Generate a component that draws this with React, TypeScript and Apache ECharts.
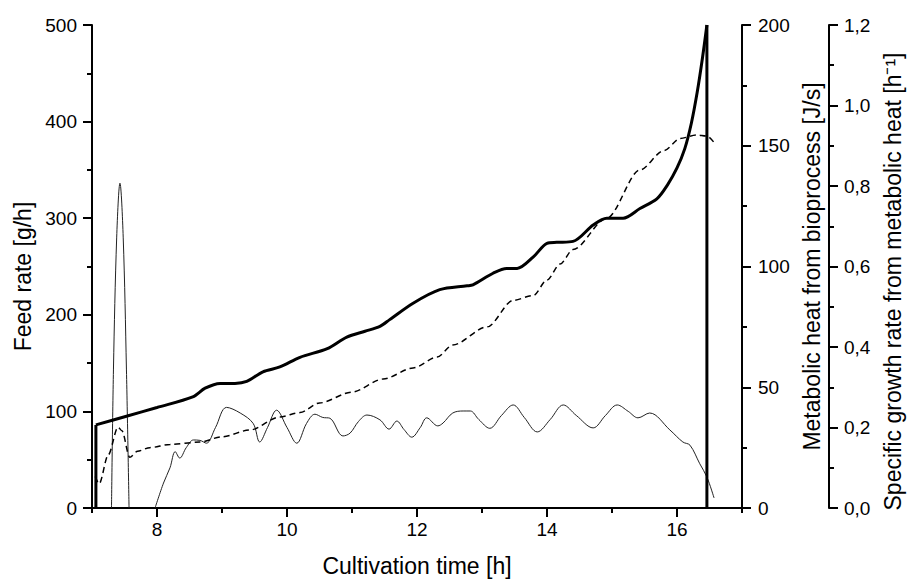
import React, { useEffect, useRef } from "react";
import * as echarts from "echarts";

// Cultivation time [h] and feed rate [g/h] (thick line, left axis)
const timeFeed = [7.06, 7.06, 7.53, 8.0, 8.55, 8.74, 8.97, 9.2, 9.38, 9.63, 9.89, 10.2, 10.62, 10.92, 11.2, 11.43, 11.58, 11.94, 12.35, 12.77, 12.86, 13.17, 13.38, 13.54, 13.79, 14.0, 14.15, 14.4, 14.71, 14.92, 15.17, 15.43, 15.69, 15.85, 16.0, 16.12, 16.22, 16.31, 16.39, 16.46, 16.46];
const feedRate = [0, 86, 95, 104, 115, 124, 129, 129, 131, 141, 146, 156, 165, 177, 183, 188, 195, 212, 226, 230, 231, 243, 248, 248, 260, 274, 275, 276, 293, 300, 300, 310, 320, 334, 352, 372, 398, 430, 465, 500, 0];

// Metabolic heat from bioprocess [J/s] (dashed line, middle axis)
const timeHeat = [7.05, 7.11, 7.25, 7.4, 7.46, 7.58, 7.7, 7.89, 8.2, 8.66, 9.0, 9.43, 9.89, 10.2, 10.5, 11.0, 11.48, 11.94, 12.31, 12.55, 13.08, 13.48, 13.79, 14.0, 14.2, 14.4, 14.92, 15.43, 15.8, 16.05, 16.3, 16.46, 16.58];
const heatValues = [13, 10, 22, 33.5, 32, 21, 23.5, 25, 26.3, 27.3, 29.5, 32.3, 37.7, 39.5, 43.5, 48, 53.4, 58, 62.5, 67.5, 75, 86, 88, 94.4, 101, 107, 120, 140, 148, 153, 154.5, 154, 151];

// Specific growth rate from metabolic heat [1/h] (thin line, right axis)
const timeMu = [7.3, 7.33, 7.38, 7.43, 7.48, 7.53, 7.57, 7.75, 7.97, 8.1, 8.2, 8.28, 8.35, 8.45, 8.56, 8.66, 8.76, 8.9, 9.07, 9.28, 9.48, 9.58, 9.7, 9.84, 10.0, 10.15, 10.3, 10.43, 10.55, 10.66, 10.86, 10.97, 11.1, 11.23, 11.43, 11.57, 11.69, 11.8, 11.92, 12.05, 12.15, 12.32, 12.4, 12.55, 12.71, 12.82, 12.95, 13.12, 13.3, 13.48, 13.65, 13.85, 14.05, 14.25, 14.45, 14.71, 14.9, 15.08, 15.25, 15.4, 15.58, 15.89, 16.09, 16.2, 16.35, 16.46, 16.57];
const muValues = [0, 0.343, 0.673, 0.807, 0.673, 0.343, 0, null, 0, 0.062, 0.1, 0.14, 0.124, 0.15, 0.169, 0.168, 0.161, 0.2, 0.25, 0.236, 0.21, 0.164, 0.2, 0.243, 0.2, 0.161, 0.21, 0.233, 0.225, 0.223, 0.179, 0.186, 0.215, 0.231, 0.219, 0.196, 0.216, 0.195, 0.176, 0.2, 0.224, 0.204, 0.211, 0.236, 0.241, 0.241, 0.22, 0.198, 0.23, 0.256, 0.225, 0.189, 0.22, 0.256, 0.23, 0.199, 0.23, 0.256, 0.24, 0.224, 0.236, 0.194, 0.164, 0.156, 0.11, 0.077, 0.025];

const xLabelValues = [8, 10, 12, 14, 16];
const xMinorValues = [7, 9, 11, 13, 15, 17];

const FONT = "Liberation Sans, Arial, sans-serif";

export default function App() {
  const ref = useRef<HTMLDivElement>(null);
  useEffect(() => {
    if (!ref.current) return;
    const chart = echarts.init(ref.current, undefined, { renderer: "svg" });
    const axisLine = { show: true, lineStyle: { color: "#000", width: 2 } };
    const labelStyle = { color: "#000", fontSize: 19, fontFamily: FONT };
    const nameStyle = { color: "#000", fontSize: 23, fontFamily: FONT };
    const yCommon = {
      type: "value" as const,
      splitLine: { show: false },
      axisLine,
      axisTick: { show: true, length: 9, lineStyle: { color: "#000", width: 2 } },
      minorTick: { show: true, splitNumber: 2, length: 5, lineStyle: { color: "#000", width: 2 } },
      nameLocation: "middle" as const,
    };
    const feedPts = timeFeed.map((t, i) => [t, feedRate[i]]);
    const n = feedPts.length;
    const feedCurve = feedPts.slice(1, n - 1);
    const feedEdges = [feedPts[0], feedPts[1], [feedPts[1][0], "-"], feedPts[n - 2], feedPts[n - 1]];
    const thick = { color: "#000", width: 3 };
    chart.setOption({
      animation: false,
      backgroundColor: "#fff",
      grid: { left: 92, right: 166, top: 25, bottom: 73, outerBoundsMode: "none" },
      xAxis: [
        {
          type: "value",
          min: 7,
          max: 17,
          splitLine: { show: false },
          axisLine,
          axisTick: { show: true, length: 9, customValues: xLabelValues, lineStyle: { color: "#000", width: 2 } },
          axisLabel: { ...labelStyle, margin: 12, customValues: xLabelValues },
          name: "Cultivation time [h]",
          nameLocation: "middle",
          nameGap: 46,
          nameTextStyle: nameStyle,
        },
        {
          type: "value",
          min: 7,
          max: 17,
          position: "bottom",
          splitLine: { show: false },
          axisLine: { show: false },
          axisTick: { show: true, length: 5, customValues: xMinorValues, lineStyle: { color: "#000", width: 2 } },
          axisLabel: { show: false },
        },
      ],
      yAxis: [
        {
          ...yCommon,
          position: "left",
          min: 0,
          max: 500,
          interval: 100,
          axisLabel: { ...labelStyle, margin: 15 },
          name: "Feed rate [g/h]",
          nameGap: 57,
          nameTextStyle: { ...nameStyle, padding: [0, 20, 0, 0] },
        },
        {
          ...yCommon,
          position: "right",
          min: 0,
          max: 200,
          interval: 50,
          axisLabel: { ...labelStyle, margin: 16 },
          name: "Metabolic heat from bioprocess [J/s]",
          nameGap: 44,
          nameTextStyle: nameStyle,
        },
        {
          ...yCommon,
          position: "right",
          offset: 87,
          min: 0,
          max: 1.2,
          interval: 0.2,
          axisLabel: {
            ...labelStyle,
            margin: 15,
            formatter: (v: number) => v.toFixed(1).replace(".", ","),
          },
          name: "Specific growth rate from metabolic heat [h\u207B\u00B9]",
          nameGap: 51,
          nameTextStyle: { ...nameStyle, padding: [0, 30, 0, 0] },
        },
      ],
      series: [
        {
          type: "line",
          name: "Feed rate",
          xAxisIndex: 0,
          yAxisIndex: 0,
          showSymbol: false,
          smooth: 0.3,
          data: feedCurve,
          lineStyle: thick,
          z: 5,
        },
        {
          type: "line",
          name: "Feed rate (steps)",
          xAxisIndex: 0,
          yAxisIndex: 0,
          showSymbol: false,
          connectNulls: false,
          data: feedEdges,
          lineStyle: thick,
          z: 5,
        },
        {
          type: "line",
          name: "Metabolic heat",
          xAxisIndex: 0,
          yAxisIndex: 1,
          showSymbol: false,
          smooth: 0.3,
          smoothMonotone: "x",
          data: timeHeat.map((t, i) => [t, heatValues[i]]),
          lineStyle: { color: "#000", width: 1.5, type: [6, 4] },
          z: 4,
        },
        {
          type: "line",
          name: "Specific growth rate",
          xAxisIndex: 0,
          yAxisIndex: 2,
          showSymbol: false,
          smooth: 0.35,
          connectNulls: false,
          data: timeMu.map((t, i) => [t, muValues[i] === null ? "-" : muValues[i]]),
          lineStyle: { color: "#222", width: 1 },
          z: 3,
        },
      ],
    });
    return () => chart.dispose();
  }, []);
  return (
    <div
      ref={ref}
      style={{ position: "fixed", left: 0, top: 0, width: 908, height: 581, background: "#fff" }}
    />
  );
}
